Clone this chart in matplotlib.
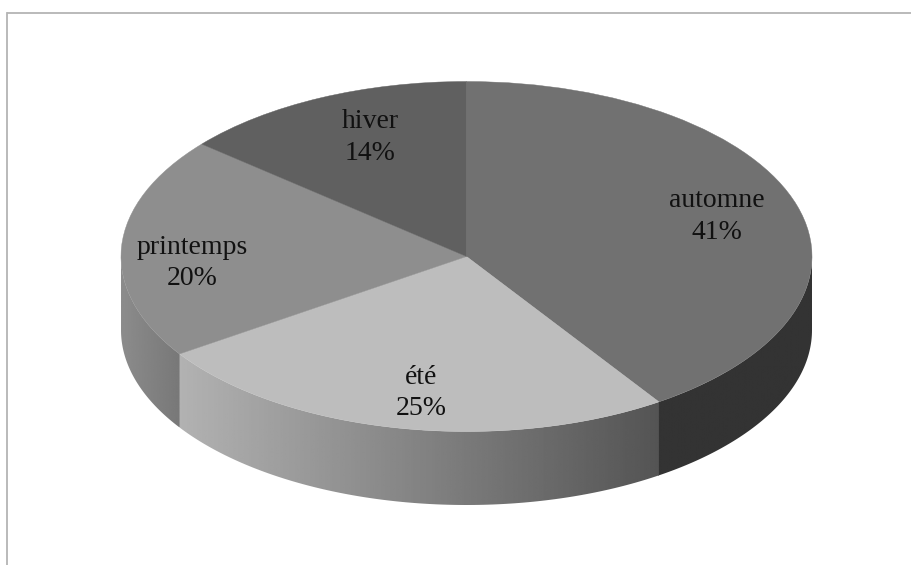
import matplotlib
matplotlib.use("Agg")
import matplotlib.pyplot as plt
import numpy as np
from matplotlib.patches import Polygon

seasons = ["automne", "été", "printemps", "hiver"]
shares = [40.6, 25.0, 20.5, 13.9]
percent_labels = ["41%", "25%", "20%", "14%"]
top_greys = ["#717171", "#bdbdbd", "#8e8e8e", "#606060"]
# side wall shade, left end and right end of each slice
side_greys = [("#333333", "#333333"), ("#b2b2b2", "#545454"), ("#8c8c8c", "#787878"), ("#606060", "#606060")]
# label centres in disc units
label_x = [0.725, -0.132, -0.794, -0.279]
label_y = [0.228, -0.782, -0.036, 0.680]

W, H = 912, 565
# pixel geometry of the disc
cx, cy, rx, ry, depth = 466.5, 256.5, 345.5, 175.0, 73.5
left, top = 7.5, 12.5

fig = plt.figure(figsize=(W / 100, H / 100), dpi=100)
ax = fig.add_axes([left / W, 0, 1 - left / W, 1 - top / H])

wedges, _ = ax.pie(shares, colors=top_greys, startangle=90, counterclock=False,
                   radius=1, wedgeprops={"linewidth": 0.3, "zorder": 3})
# edge in the slice colour hides the pale seams between slices
for wedge, grey in zip(wedges, top_greys):
    wedge.set_edgecolor(grey)
ax.set_aspect("auto")
xlim = ((left - cx) / rx, (W - cx) / rx)
ylim = ((cy - H) / ry, (cy - top) / ry)
wall = depth / ry

# side wall, only the front half of the disc shows
for wedge, greys in zip(wedges, side_greys):
    lo = max(wedge.theta1, -180)
    hi = min(wedge.theta2, 0)
    if hi <= lo:
        continue
    # small overlap so no white seam between neighbours
    t = np.radians(np.linspace(max(lo - 0.2, -180), hi, 120))
    xs = np.cos(t)
    ys = np.sin(t)
    pts = np.r_[np.c_[xs, ys], np.c_[xs[::-1], ys[::-1] - wall]]
    shape = Polygon(pts, closed=True, transform=ax.transData, fc="none", ec="none")
    ax.add_patch(shape)
    c0 = int(greys[0][1:3], 16) / 255
    c1 = int(greys[1][1:3], 16) / 255
    grad = np.linspace(c0, c1, 256).reshape(1, -1)
    im = ax.imshow(grad, cmap="gray", vmin=0, vmax=1, aspect="auto", zorder=2,
                   extent=(xs.min(), xs.max(), ys.min() - wall, ys.max()))
    im.set_clip_path(shape)

# labels
for name, pct, x, y in zip(seasons, percent_labels, label_x, label_y):
    ax.text(x, y, f"{name}\n{pct}", ha="center", va="center",
            family="Liberation Serif", fontsize=20, color="#111111", linespacing=1.33, zorder=4)

ax.set_xlim(xlim)
ax.set_ylim(ylim)

# only top and left of the chart frame are in the picture
ax.set_frame_on(True)
ax.set_xticks([])
ax.set_yticks([])
for side in ["right", "bottom"]:
    ax.spines[side].set_visible(False)
for side in ["top", "left"]:
    ax.spines[side].set_color("#b4b4b4")
    ax.spines[side].set_linewidth(1.3)

fig.savefig("out.png", dpi=100)
